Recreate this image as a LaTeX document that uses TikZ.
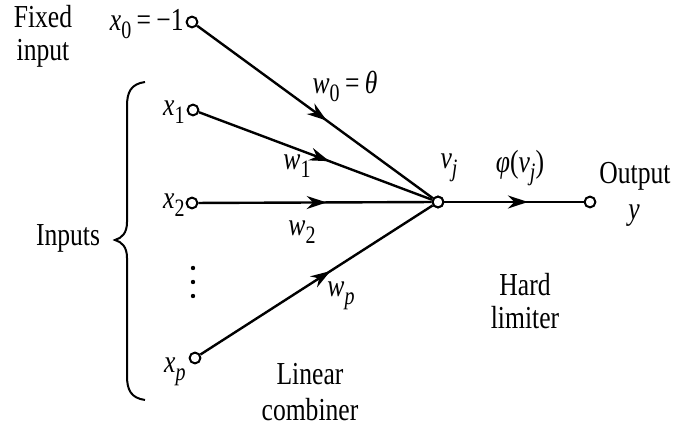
\documentclass[tikz,border=0pt]{standalone}
\usepackage{fontspec}
\setmainfont{Liberation Serif}[FakeStretch=0.8]
\usetikzlibrary{arrows.meta,decorations.markings}
\newcommand{\iv}[1]{\textit{#1}}
\newcommand{\sbs}[1]{\raisebox{-0.55ex}{\fontsize{12.5pt}{13pt}\selectfont #1}}
\begin{document}
\begin{tikzpicture}[x=0.5pt,y=-0.5pt,
  lbl/.style={font=\fontsize{16pt}{17pt}\selectfont, inner sep=0pt, align=center},
  term/.style={circle, draw, line width=1pt, fill=white, minimum size=5.4pt, inner sep=0pt},
  conn/.style={line width=1.2pt},
  midarrow/.style={postaction={decorate}, decoration={markings, mark=at position #1 with {\arrow{Stealth[length=10pt,width=6.5pt]}}}}
]
\useasboundingbox (0,0) rectangle (676,426);
% terminals
\node[term] (x0) at (192,22) {};
\node[term] (x1) at (193,110) {};
\node[term] (x2) at (192,203) {};
\node[term] (xp) at (195,358) {};
\node[term] (v) at (438,202) {};
\node[term] (y) at (590,202) {};
% connectors
\draw[conn, midarrow=0.55] (x0) -- (v);
\draw[conn, midarrow=0.56] (x1) -- (v);
\draw[conn, midarrow=0.55] (x2) -- (v);
\draw[conn, midarrow=0.56] (xp) -- (v);
\draw[conn, midarrow=0.6] (v) -- (y);
\node[term] at (v) {};
% labels
\node[lbl] (fixed) at (43,17) {Fixed};
\node[lbl] (finput) at (43,53) {input};
\node[lbl, anchor=east] (lx0) at (184,24) {\iv{x}\sbs{0}\,=\,−1};
\node[lbl, anchor=east] (lx1) at (185,112) {\iv{x}\sbs{1}};
\node[lbl, anchor=east] (lx2) at (185,205) {\iv{x}\sbs{2}};
\node[lbl, anchor=east] (lxp) at (186,372) {\iv{x}\sbs{\iv{p}}};
\fill (193,268) circle (1.1pt) (193,282) circle (1.1pt) (193,296) circle (1.1pt);
\node[lbl] (inputs) at (68,238) {Inputs};
\draw[line width=1pt] (145,82) .. controls (131,84) and (127,92) .. (127,106) -- (127,222) .. controls (127,233) and (122,238) .. (115,240) .. controls (122,242) and (127,247) .. (127,258) -- (127,376) .. controls (127,390) and (131,398) .. (145,400);
\node[lbl] (w0) at (345,86) {\iv{w}\sbs{0}\,=\,\iv{θ}};
\node[lbl] (w1) at (297,166) {\iv{w}\sbs{1}};
\node[lbl] (w2) at (302,232) {\iv{w}\sbs{2}};
\node[lbl] (wp) at (341,296) {\iv{w}\sbs{\iv{p}}};
\node[lbl] (vj) at (449,168) {\iv{v}\sbs{\iv{j}}};
\node[lbl] (phi) at (520,168) {\iv{φ}(\iv{v}\sbs{\iv{j}})};
\node[lbl] (out) at (635,176) {Output};
\node[lbl] (yl) at (634,216) {\iv{y}};
\node[lbl] (hard) at (525,285) {Hard};
\node[lbl] (lim) at (525,318) {limiter};
\node[lbl] (lin) at (310,374) {Linear};
\node[lbl] (comb) at (310,410) {combiner};
\end{tikzpicture}
\end{document}
